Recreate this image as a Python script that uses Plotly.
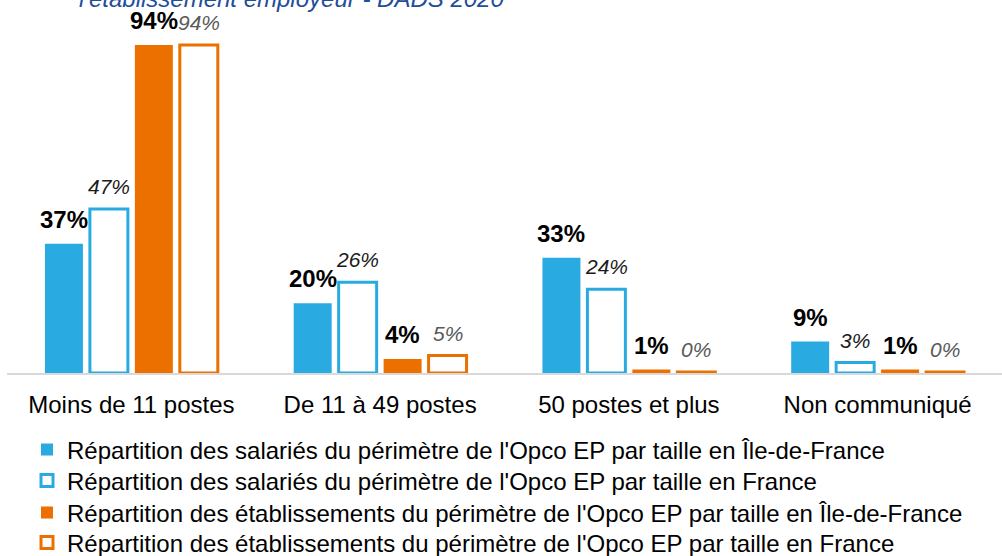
import plotly.graph_objects as go

categories = ["Moins de 11 postes", "De 11 à 49 postes", "50 postes et plus", "Non communiqué"]
sal_idf = [37, 20, 33, 9]
sal_fr = [47, 26, 24, 3]
etab_idf = [94, 4, 1, 1]
etab_fr = [94, 5, 0.3, 0.3]

names = [
    "Répartition des salariés du périmètre de l'Opco EP par taille en Île-de-France",
    "Répartition des salariés du périmètre de l'Opco EP par taille en France",
    "Répartition des établissements du périmètre de l'Opco EP par taille en Île-de-France",
    "Répartition des établissements du périmètre de l'Opco EP par taille en France",
]
title_text = "l'établissement employeur - DADS 2020"

BLUE = "#29ABE2"
ORANGE = "#EC7000"
FONT = "Arial, Liberation Sans, sans-serif"

W, H = 1002, 556
ML, MR, MT, MB = 7, 0, 24, 183
BARGAP, GROUPGAP = 0.277, 0.155
plot_w = W - ML - MR
plot_h = H - MT - MB
base_y = H - MB


def py(pix):
    return (base_y - pix) / plot_h


def px(pix):
    return (pix - ML) / plot_w


series = [
    dict(vals=sal_idf, fill=BLUE, line=BLUE, lw=0, bold=True, lcolor="#000000", lsize=24),
    dict(vals=sal_fr, fill="#FFFFFF", line=BLUE, lw=3, bold=False, lcolor="#1a1a1a", lsize=21),
    dict(vals=etab_idf, fill=ORANGE, line=ORANGE, lw=0, bold=True, lcolor="#000000", lsize=24),
    dict(vals=etab_fr, fill="#FFFFFF", line=ORANGE, lw=3, bold=False, lcolor="#595959", lsize=21),
]
legend_rows = [450, 481, 513, 543]
legend_ids = ["legend", "legend2", "legend3", "legend4"]

fig = go.Figure()
for s, name, lid in zip(series, names, legend_ids):
    fig.add_trace(go.Bar(
        x=categories, y=s["vals"], name=name, legend=lid,
        marker=dict(color=s["fill"], line=dict(color=s["line"], width=s["lw"])),
        hoverinfo="skip",
    ))

slot = plot_w / len(categories) * (1 - BARGAP) / len(series)
annotations = []
for i, s in enumerate(series):
    for j, v in enumerate(s["vals"]):
        t = f"{v:.0f}%"
        t = f"<b>{t}</b>" if s["bold"] else f"<i>{t}</i>"
        annotations.append(dict(
            x=j, y=v, xref="x", yref="y", text=t, showarrow=False,
            xshift=(i - (len(series) - 1) / 2) * slot, yshift=9, yanchor="bottom",
            font=dict(family=FONT, size=s["lsize"], color=s["lcolor"]),
        ))

annotations.append(dict(
    x=px(291), y=py(7), xref="paper", yref="paper",
    text=f"<i>{title_text}</i>", showarrow=False, xanchor="center", yanchor="bottom",
    yshift=-7,
    font=dict(family=FONT, size=24, color="#1F4E9A"),
))

legend_layouts = {}
for lid, row in zip(legend_ids, legend_rows):
    legend_layouts[lid] = dict(
        x=px(27), y=py(row), xanchor="left", yanchor="middle",
        font=dict(family=FONT, size=24, color="#000000"),
        bgcolor="rgba(0,0,0,0)", borderwidth=0,
    )

fig.update_layout(
    width=W, height=H,
    margin=dict(l=ML, r=MR, t=MT, b=MB, autoexpand=False),
    paper_bgcolor="white", plot_bgcolor="white",
    barmode="group", bargap=BARGAP, bargroupgap=GROUPGAP,
    font=dict(family=FONT, size=24, color="#000000"),
    showlegend=True,
    annotations=annotations,
    **legend_layouts,
)
fig.update_xaxes(
    type="category", showline=True, linecolor="#D9D9D9", linewidth=2,
    ticks="outside", ticklen=9, tickcolor="rgba(0,0,0,0)",
    tickfont=dict(family=FONT, size=24, color="#000000"), showgrid=False,
)
fig.update_yaxes(range=[0, 100], visible=False, showgrid=False)

fig.write_html(
    "out.html",
    config={"displayModeBar": False},
    post_script="document.body.style.margin='0';document.body.style.overflow='hidden';",
)
